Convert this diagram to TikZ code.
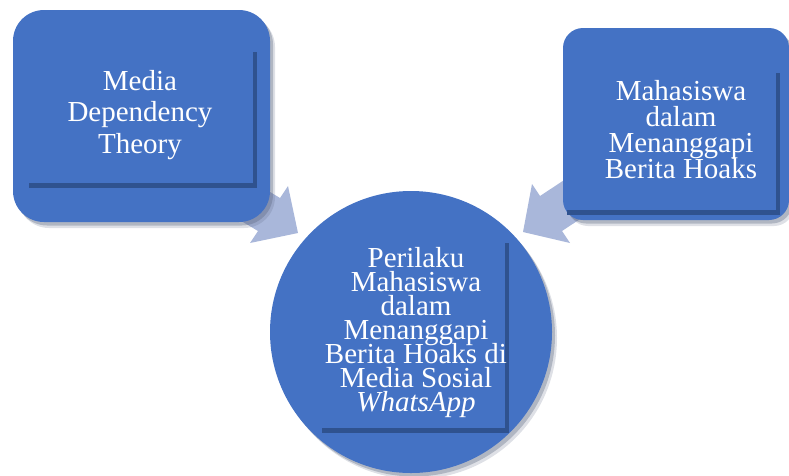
\documentclass[tikz,border=0pt]{standalone}
\usepackage{fontspec}
\setmainfont{Liberation Serif}
\definecolor{boxblue}{HTML}{4472C4}
\definecolor{edgeblue}{HTML}{2F528F}
\definecolor{arrowblue}{HTML}{A9B7DA}
\definecolor{shadowgray}{HTML}{5A6680}
\lineskiplimit=-100pt
\begin{document}
\begin{tikzpicture}[x=1pt,y=-1pt,
  softshadow/.style={
    preaction={fill=shadowgray,opacity=0.2,transform canvas={shift={(5pt,-6pt)}}},
    preaction={fill=shadowgray,opacity=0.35,transform canvas={shift={(3pt,-3.5pt)}}}},
  bluebox/.style={rectangle,fill=boxblue,draw=none,inner sep=0pt,softshadow},
  bluecircle/.style={circle,fill=boxblue,draw=none,inner sep=0pt,softshadow},
  bevel/.style={draw=edgeblue,line width=4.5pt},
  blockarrow/.style={fill=arrowblue,draw=none},
  txt/.style={text=white,align=center,inner sep=0pt,
    font=\fontsize{29pt}{#1pt}\selectfont},
]
\useasboundingbox (0,0) rectangle (789,475);

% block arrows (behind the boxes)
\coordinate (lT) at (298,233);
\coordinate (lB1) at (288,186);
\coordinate (lB2) at (250,243);
\coordinate (lN1) at (280,198);
\coordinate (lN2) at (258,231);
\coordinate (lS1) at (229,167);
\coordinate (lS2) at (206,200);
\fill[blockarrow] (lT) -- (lB1) -- (lN1) -- (lS1) -- (lS2) -- (lN2) -- (lB2) -- cycle;

\coordinate (rT) at (523,232);
\coordinate (rB1) at (532,184);
\coordinate (rB2) at (570,243);
\coordinate (rN1) at (540,196);
\coordinate (rN2) at (562,231);
\coordinate (rS1) at (590,163);
\coordinate (rS2) at (612,198);
\fill[blockarrow] (rT) -- (rB1) -- (rN1) -- (rS1) -- (rS2) -- (rN2) -- (rB2) -- cycle;

% left box
\node[bluebox,rounded corners=31pt,minimum width=257pt,minimum height=212pt] (left) at (141.5,116) {};
\draw[bevel] (255,52) -- (255,185.5) -- (29,185.5);
\node[txt=31.5] (lefttext) at (140,114.8) {Media\\Dependency\\Theory};

% right box
\node[bluebox,rounded corners=20pt,minimum width=226pt,minimum height=192pt] (right) at (676,124) {};
\draw[bevel] (778,73) -- (778,212.5) -- (567,212.5);
\node[txt=26] (righttext) at (681,129.3) {Mahasiswa\\dalam\\Menanggapi\\Berita Hoaks};

% circle
\node[bluecircle,minimum size=282pt] (center) at (411,332) {};
\draw[bevel] (507,243) -- (507,430.5) -- (322,430.5);
\node[txt=24] (centertext) at (416,332.3) {Perilaku\\Mahasiswa\\dalam\\Menanggapi\\Berita Hoaks di\\Media Sosial\\\textit{WhatsApp}};
\end{tikzpicture}
\end{document}
